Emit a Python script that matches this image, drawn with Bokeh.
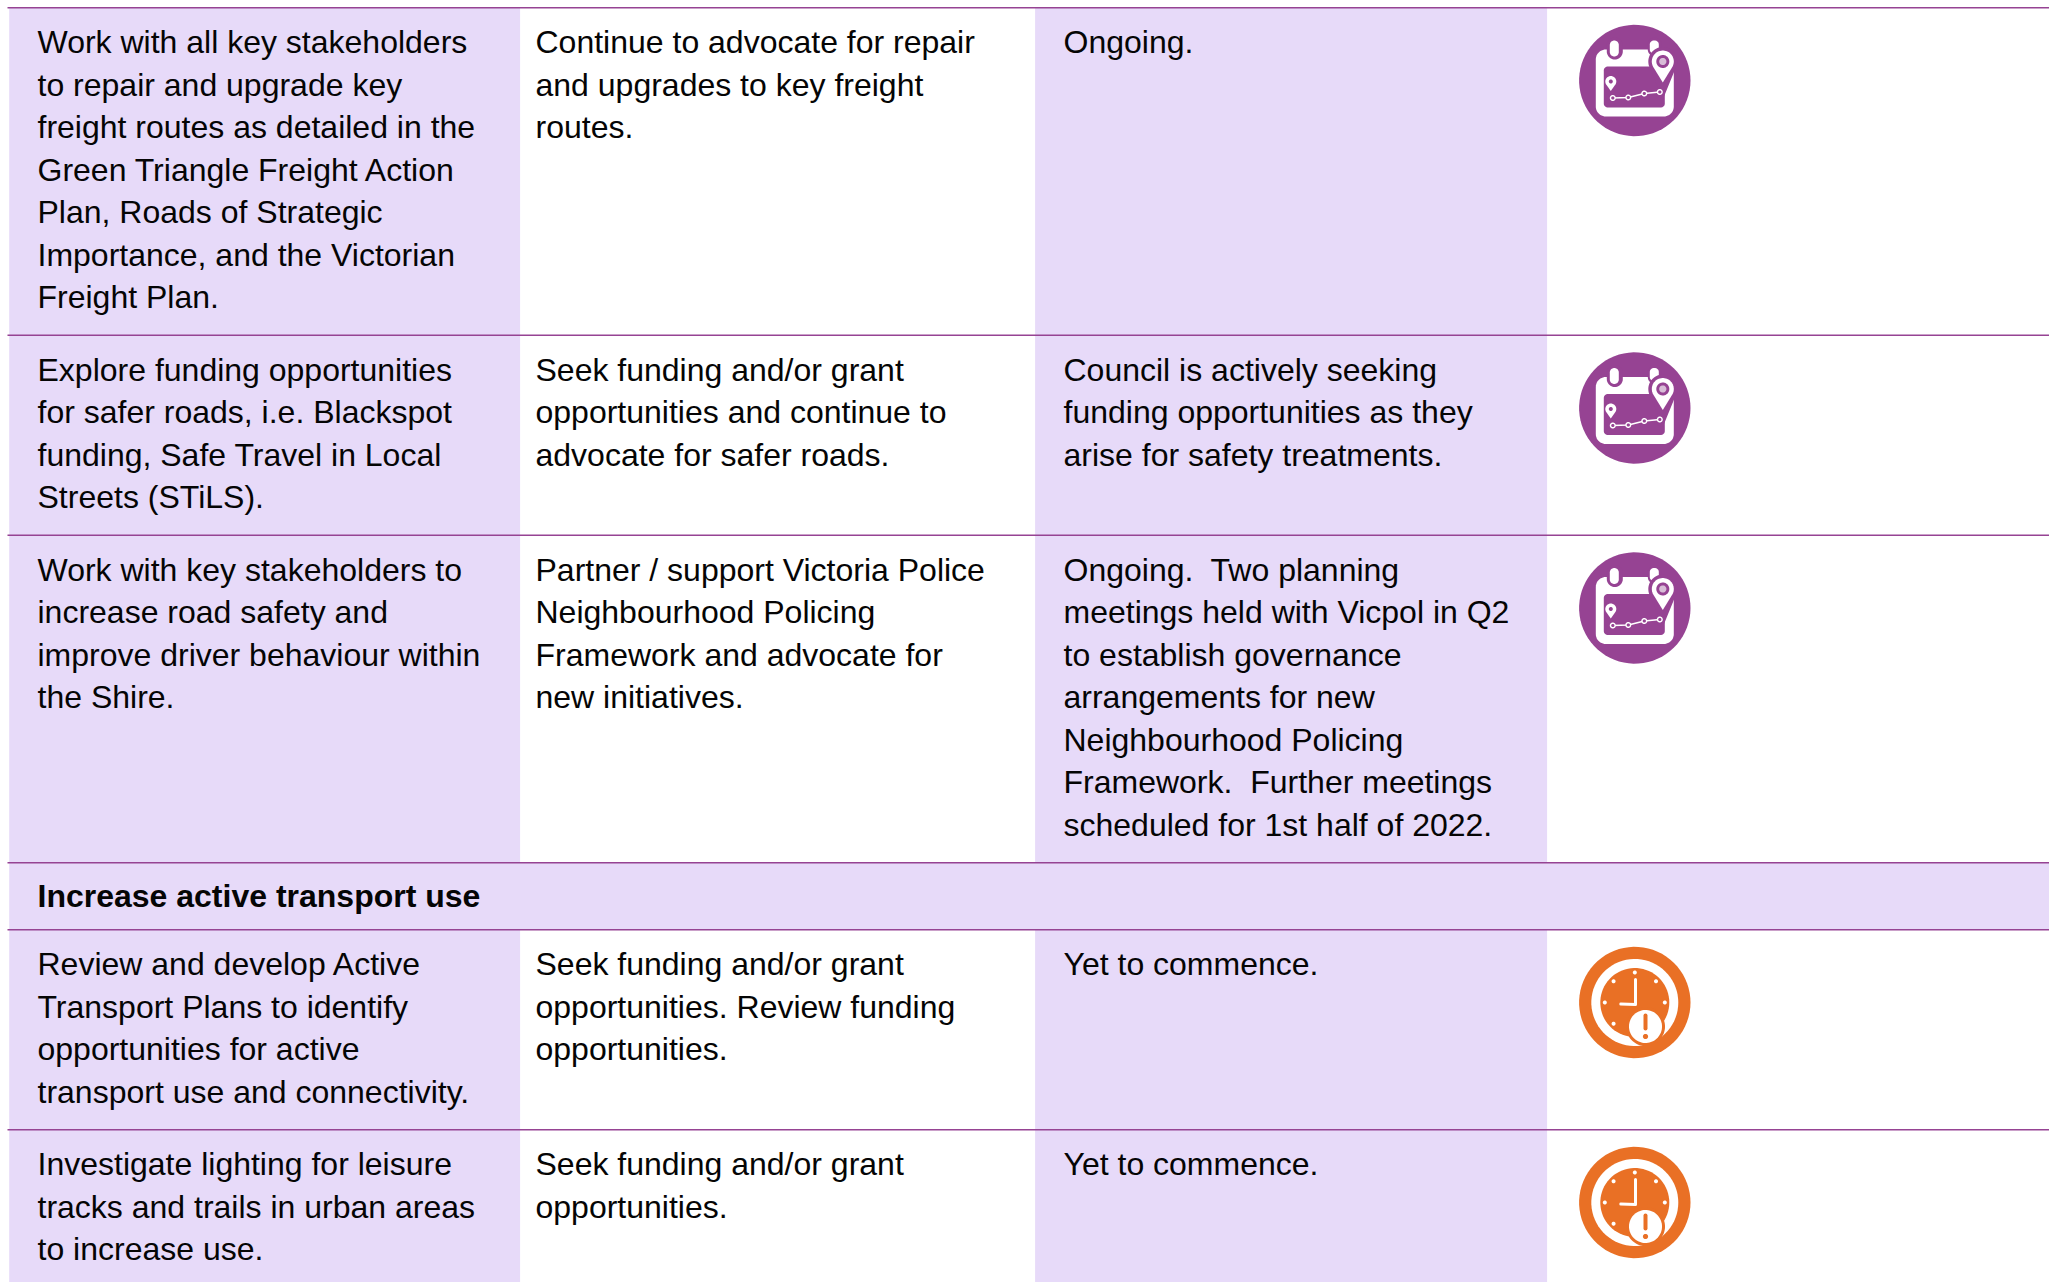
from bokeh.plotting import figure
from bokeh.embed import file_html
from bokeh.resources import INLINE
from bokeh.core.properties import value
import numpy as np

col1 = [
    ["Work with all key stakeholders", "to repair and upgrade key", "freight routes as detailed in the", "Green Triangle Freight Action", "Plan, Roads of Strategic", "Importance, and the Victorian", "Freight Plan."],
    ["Explore funding opportunities", "for safer roads, i.e. Blackspot", "funding, Safe Travel in Local", "Streets (STiLS)."],
    ["Work with key stakeholders to", "increase road safety and", "improve driver behaviour within", "the Shire."],
    ["Increase active transport use"],
    ["Review and develop Active", "Transport Plans to identify", "opportunities for active", "transport use and connectivity."],
    ["Investigate lighting for leisure", "tracks and trails in urban areas", "to increase use."],
]
col2 = [
    ["Continue to advocate for repair", "and upgrades to key freight", "routes."],
    ["Seek funding and/or grant", "opportunities and continue to", "advocate for safer roads."],
    ["Partner / support Victoria Police", "Neighbourhood Policing", "Framework and advocate for", "new initiatives."],
    [],
    ["Seek funding and/or grant", "opportunities. Review funding", "opportunities."],
    ["Seek funding and/or grant", "opportunities."],
]
col3 = [
    ["Ongoing."],
    ["Council is actively seeking", "funding opportunities as they", "arise for safety treatments."],
    ["Ongoing.\u00a0 Two planning", "meetings held with Vicpol in Q2", "to establish governance", "arrangements for new", "Neighbourhood Policing", "Framework.\u00a0 Further meetings", "scheduled for 1st half of 2022."],
    [],
    ["Yet to commence."],
    ["Yet to commence."],
]
status = ["plan", "plan", "plan", None, "late", "late"]
row_lines = [7, 4, 7, 1, 4, 4]
is_header = [False, False, False, True, False, False]

W, H = 2049, 1282
PURPLE, LILAC, ORANGE = "#964393", "#e7daf9", "#e97025"
PITCH, PAD, HEAD_PAD = 42.5, 30.0, 24.5
edges_x = [8.7, 519.6, 1034.6, 1546.6, 2049]
rule_x0 = 7
text_x = [37, 535, 1063]
FS = "32px"
CLOCK_DOTS = [-90, -45, 0, 180, -135, 135]

p = figure(width=W, height=H, x_range=(0, W), y_range=(H, 0), output_backend="svg",
           toolbar_location=None, min_border=0, outline_line_color=None, x_axis_type=None, y_axis_type=None)
p.grid.visible = False

def arc(cx, cy, r, a0=0, a1=360, n=72):
    t = np.radians(np.linspace(a0, a1, n))
    return cx + r*np.cos(t), cy + r*np.sin(t)

def blob(x, y, color):
    p.patch(list(x), list(y), fill_color=color, line_color=None)

def disc(cx, cy, r, color):
    x, y = arc(cx, cy, r)
    blob(x, y, color)

def rrect(x0, y0, x1, y1, r, color):
    xs, ys = [], []
    for cx, cy, a in [(x1-r, y0+r, -90), (x1-r, y1-r, 0), (x0+r, y1-r, 90), (x0+r, y0+r, 180)]:
        ax, ay = arc(cx, cy, r, a, a+90, 12)
        xs += list(ax); ys += list(ay)
    blob(xs, ys, color)

def pin(cx, cy, r, tip, color):
    ax, ay = arc(cx, cy, r, 150, 390, 40)
    blob(list(ax) + [cx], list(ay) + [cy + tip], color)

def stroke(x, y, w, color):
    p.line(x, y, line_width=w, line_color=color, line_cap="round", line_join="round")

def calendar(cx, cy):
    disc(cx, cy, 55.7, PURPLE)
    rrect(cx-39, cy-31, cx+39, cy+36, 10, "white")
    rrect(cx-31, cy-14, cx+30, cy+27, 4, PURPLE)
    rrect(cx-28, cy-43, cx-12, cy-21, 8, PURPLE)
    rrect(cx-25, cy-40, cx-16, cy-24, 4.5, "white")
    rrect(cx+13, cy-43, cx+27, cy-24, 7, PURPLE)
    rrect(cx+15, cy-40, cx+24, cy-27, 4, "white")
    pin(cx+28, cy-19, 14.5, 38, PURPLE)
    pin(cx+28, cy-19, 11, 21, "white")
    disc(cx+28, cy-19, 6.5, PURPLE)
    disc(cx+28, cy-19, 3.6, "#d8bdd7")
    pin(cx-24, cy+1, 5.5, 9.5, "white")
    disc(cx-24, cy+1, 2, PURPLE)
    px = [cx-22, cx-6.5, cx+9.5, cx+25]
    py = [cy+17.5, cy+17, cy+13, cy+11.5]
    stroke(px, py, 1.5, "white")
    for a, b in zip(px, py):
        disc(a, b, 3, "white")
        disc(a, b, 1.6, PURPLE)

def clock(cx, cy):
    disc(cx, cy, 55.7, ORANGE)
    disc(cx, cy, 43.5, "white")
    disc(cx, cy, 34.5, ORANGE)
    for deg in CLOCK_DOTS:
        a = np.radians(deg)
        disc(cx + 30*np.cos(a), cy + 30*np.sin(a), 2, "white")
    stroke([cx+0.7, cx+0.7, cx-14], [cy-23, cy+2, cy+1.5], 3, "white")
    disc(cx+10.7, cy+24, 19.5, ORANGE)
    disc(cx+10.7, cy+24, 16.5, "white")
    stroke([cx+10.7, cx+10.7], [cy+13, cy+26], 4, ORANGE)
    disc(cx+10.7, cy+34, 2.6, ORANGE)

y = 7.3
tops = []
for n, hdr in zip(row_lines, is_header):
    tops.append(y)
    y += n*PITCH + (HEAD_PAD if hdr else PAD)
tops.append(y)

for i in range(len(row_lines)):
    t, b = tops[i], tops[i+1]
    if is_header[i]:
        p.quad(left=edges_x[0], right=edges_x[4], top=t, bottom=b, fill_color=LILAC, line_color=None)
    else:
        for c in (0, 2):
            p.quad(left=edges_x[c], right=edges_x[c+1], top=t, bottom=b, fill_color=LILAC, line_color=None)

for i in range(len(row_lines)):
    p.line([rule_x0, edges_x[4]], [tops[i], tops[i]], line_color=PURPLE, line_width=1.5)

for i in range(len(row_lines)):
    base = tops[i] + (HEAD_PAD/2 if is_header[i] else 13.2) + 21
    for c, col in enumerate((col1, col2, col3)):
        lines = col[i]
        if not lines:
            continue
        ys = [base + k*PITCH for k in range(len(lines))]
        p.text(x=[text_x[c]]*len(lines), y=ys, text=lines, text_font=value("Liberation Sans"),
               text_font_size=FS, text_color="#050505", text_baseline="middle",
               text_font_style="bold" if is_header[i] else "normal")
    if status[i] == "plan":
        calendar(1634.3, tops[i] + 72.7)
    elif status[i] == "late":
        clock(1634.3, tops[i] + 72.7)

open("out.html", "w").write(file_html(p, INLINE))
